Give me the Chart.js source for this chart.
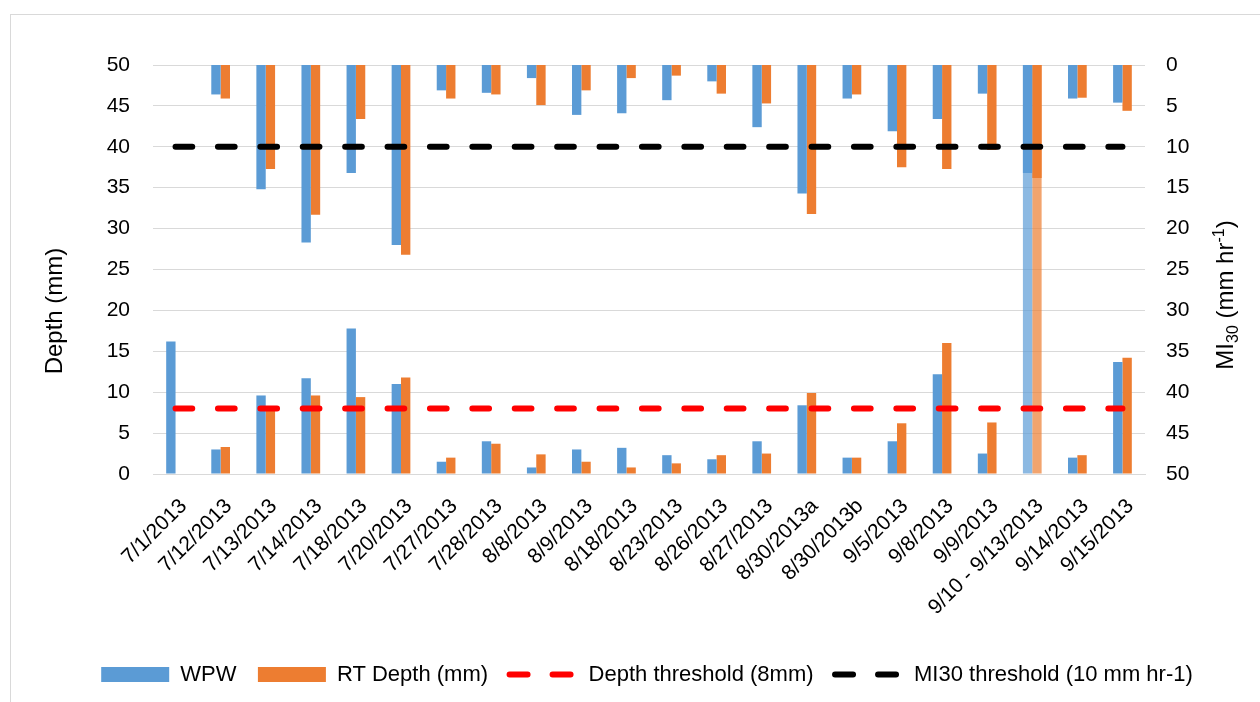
<!DOCTYPE html>
<html>
<head>
<meta charset="utf-8">
<script src="https://cdn.jsdelivr.net/npm/chart.js@4.4.1/dist/chart.umd.min.js"></script>
<style>
  html, body { margin: 0; padding: 0; background: #fff; overflow: hidden; }
  #frame { position: absolute; left: 10px; top: 14px; width: 1300px; height: 720px; border: 1px solid #d9d9d9; }
  #box { position: absolute; left: 11px; top: 15px; width: 1272px; height: 687px; }
</style>
</head>
<body>
<div id="frame"></div>
<div id="box"><canvas id="rain-chart"></canvas></div>
<script>
const categories = ['7/1/2013', '7/12/2013', '7/13/2013', '7/14/2013', '7/18/2013', '7/20/2013',
  '7/27/2013', '7/28/2013', '8/8/2013', '8/9/2013', '8/18/2013', '8/23/2013', '8/26/2013',
  '8/27/2013', '8/30/2013a', '8/30/2013b', '9/5/2013', '9/8/2013', '9/9/2013',
  '9/10 - 9/13/2013', '9/14/2013', '9/15/2013'];

// depth (mm), left axis, bars from the bottom
const wpwDepth = [16.2, 3.0, 9.6, 11.7, 17.8, 11.0, 1.5, 4.0, 0.8, 3.0, 3.2, 2.3, 1.8, 4.0, 8.4, 2.0, 4.0, 12.2, 2.5, 75, 2.0, 13.7];
const rtDepth = [0, 3.3, 8.1, 9.6, 9.4, 11.8, 2.0, 3.7, 2.4, 1.5, 0.8, 1.3, 2.3, 2.5, 9.9, 2.0, 6.2, 16.0, 6.3, 80, 2.3, 14.2];

// MI30 (mm hr-1), right axis reversed, bars from the top
const wpwMI30 = [0, 3.6, 15.2, 21.7, 13.2, 22.0, 3.1, 3.4, 1.6, 6.1, 5.9, 4.3, 2.0, 7.6, 15.7, 4.1, 8.1, 6.6, 3.5, 13.2, 4.1, 4.6];
const rtMI30 = [0, 4.1, 12.7, 18.3, 6.6, 23.2, 4.1, 3.6, 4.9, 3.1, 1.6, 1.3, 3.5, 4.7, 18.2, 3.6, 12.5, 12.7, 10.4, 13.8, 4.0, 5.6];

const depthThreshold = 8;
const mi30Threshold = 10;
const depthTicks = [0, 50, 5];

const BLUE = '#5B9BD5';
const ORANGE = '#ED7D31';
const BLUE_FADED = 'rgba(91,155,213,0.7)';
const ORANGE_FADED = 'rgba(237,125,49,0.7)';
const FONT = '"Liberation Sans", Arial, sans-serif';
const floodIndex = categories.indexOf('9/10 - 9/13/2013');

Chart.defaults.font.family = FONT;
Chart.defaults.color = '#000';

// axis titles: right one reads bottom to top with sub/superscript
const axisTitles = {
  id: 'axisTitles',
  afterDraw(chart) {
    const ctx = chart.ctx;
    ctx.save();
    ctx.fillStyle = '#000';
    ctx.textBaseline = 'alphabetic';

    ctx.save();
    ctx.translate(45, 296);
    ctx.rotate(-Math.PI / 2);
    ctx.font = '24px ' + FONT;
    ctx.textAlign = 'center';
    ctx.fillText('Depth (mm)', 0, 6);
    ctx.restore();

    const parts = [['MI', 24, 0], ['30', 16, 5], [' (mm hr', 24, 0], ['-1', 16, -9], [')', 24, 0]];
    let total = 0;
    parts.forEach(p => { ctx.font = p[1] + 'px ' + FONT; total += ctx.measureText(p[0]).width; });
    ctx.translate(1216, 280);
    ctx.rotate(-Math.PI / 2);
    ctx.textAlign = 'left';
    let x = -total / 2;
    parts.forEach(p => {
      ctx.font = p[1] + 'px ' + FONT;
      ctx.fillText(p[0], x, 6 + p[2]);
      x += ctx.measureText(p[0]).width;
    });
    ctx.restore();
  }
};

const barStyle = { type: 'bar', clip: 0, borderWidth: 0, categoryPercentage: 0.415, barPercentage: 1.0 };
const lineStyle = { type: 'line', borderWidth: 6, borderDash: [16.7, 25.7], borderCapStyle: 'round', pointRadius: 0, fill: false, order: -1 };

new Chart(document.getElementById('rain-chart').getContext('2d'), {
  data: {
    labels: categories,
    datasets: [
      { ...barStyle, label: 'WPW', data: wpwDepth, yAxisID: 'y', stack: 'wpw',
        backgroundColor: wpwDepth.map((v, i) => i === floodIndex ? BLUE_FADED : BLUE) },
      { ...barStyle, label: 'RT Depth (mm)', data: rtDepth, yAxisID: 'y', stack: 'rt',
        backgroundColor: rtDepth.map((v, i) => i === floodIndex ? ORANGE_FADED : ORANGE) },
      { ...barStyle, label: 'WPW MI30', data: wpwMI30, yAxisID: 'y2', stack: 'wpw', backgroundColor: BLUE },
      { ...barStyle, label: 'RT MI30', data: rtMI30, yAxisID: 'y2', stack: 'rt', backgroundColor: ORANGE },
      { ...lineStyle, label: 'Depth threshold (8mm)', data: categories.map(() => depthThreshold), yAxisID: 'y', borderColor: '#FF0000' },
      { ...lineStyle, label: 'MI30 threshold (10 mm hr-1)', data: categories.map(() => mi30Threshold), yAxisID: 'y2', borderColor: '#000000' }
    ]
  },
  options: {
    responsive: true,
    maintainAspectRatio: false,
    animation: false,
    layout: { padding: { top: 50, left: 0, right: 0, bottom: 6.5 } },
    plugins: {
      tooltip: { enabled: false },
      legend: {
        position: 'bottom',
        labels: {
          usePointStyle: true,
          pointStyleWidth: 68,
          boxHeight: 15,
          padding: 21.5,
          color: '#000',
          font: { size: 22 },
          generateLabels: () => [
            { text: 'WPW', fillStyle: BLUE, strokeStyle: BLUE, lineWidth: 0, pointStyle: 'rect', datasetIndex: 0 },
            { text: 'RT Depth (mm)', fillStyle: ORANGE, strokeStyle: ORANGE, lineWidth: 0, pointStyle: 'rect', datasetIndex: 1 },
            { text: 'Depth threshold (8mm)', fillStyle: 'rgba(0,0,0,0)', strokeStyle: '#FF0000', lineWidth: 6,
              lineDash: [18, 25], lineCap: 'round', pointStyle: 'line', datasetIndex: 4 },
            { text: 'MI30 threshold (10 mm hr-1)', fillStyle: 'rgba(0,0,0,0)', strokeStyle: '#000000', lineWidth: 6,
              lineDash: [18, 25], lineCap: 'round', pointStyle: 'line', datasetIndex: 5 }
          ]
        }
      }
    },
    scales: {
      x: {
        stacked: true,
        offset: true,
        grid: { display: false, drawTicks: false },
        border: { display: true, color: '#d9d9d9', width: 1 },
        ticks: { autoSkip: false, maxRotation: 45, minRotation: 45, padding: 20, labelOffset: 8, font: { size: 21 }, color: '#000' },
        afterFit(scale) { scale.height = 168; }
      },
      y: {
        position: 'left',
        stacked: false,
        min: depthTicks[0], max: depthTicks[1],
        grid: { color: '#d9d9d9', drawTicks: false },
        border: { display: false },
        ticks: { stepSize: depthTicks[2], padding: 23, font: { size: 21 }, color: '#000' },
        afterFit(scale) { scale.width = 142; }
      },
      y2: {
        position: 'right',
        stacked: false,
        reverse: true,
        min: depthTicks[0], max: depthTicks[1],
        grid: { display: false, drawTicks: false },
        border: { display: false },
        ticks: { stepSize: depthTicks[2], padding: 21, font: { size: 21 }, color: '#000' },
        afterFit(scale) { scale.width = 138; }
      }
    }
  },
  plugins: [axisTitles]
});
</script>
</body>
</html>
